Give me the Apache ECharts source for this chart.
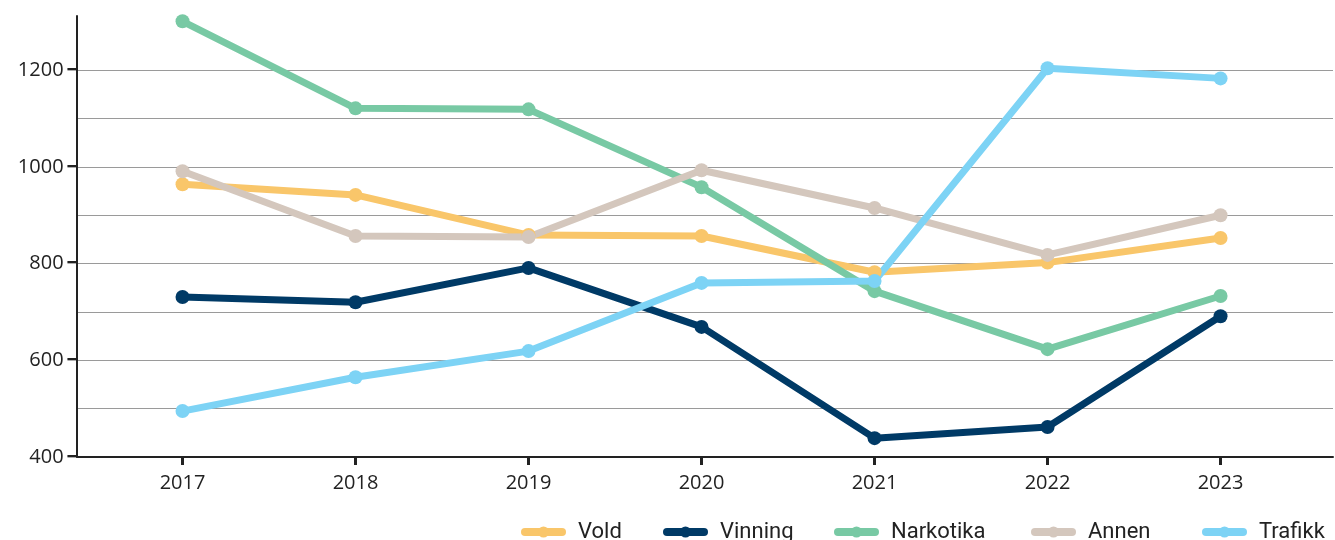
<!DOCTYPE html>
<html>
<head>
<meta charset="utf-8">
<script src="https://cdn.jsdelivr.net/npm/echarts@6/dist/echarts.min.js"></script>
<style>
html, body { margin: 0; padding: 0; background: #fff; }
#main { width: 1335px; height: 540px; }
</style>
</head>
<body>
<div id="main"></div>
<script>
var years = [2017, 2018, 2019, 2020, 2021, 2022, 2023];
var seriesNames = ['Vold', 'Vinning', 'Narkotika', 'Annen', 'Trafikk'];
var vold = [964, 942, 859, 857, 782, 802, 853];
var vinning = [731, 720, 791, 669, 439, 462, 691];
var narkotika = [1301, 1121, 1119, 958, 743, 623, 733];
var annen = [991, 857, 855, 993, 915, 818, 900];
var trafikk = [495, 565, 619, 760, 764, 1204, 1183];
var yLabels = [400, 600, 800, 1000, 1200];

var colors = ['#F9C66A', '#003A66', '#78C9A4', '#D4C7BD', '#7DD3F5'];
var values = [vold, vinning, narkotika, annen, trafikk];
var legendLeft = [516, 658, 829, 1026, 1197];
var xMin = 2016.39;
var xMax = 2023.65;

var myChart = echarts.init(document.getElementById('main'));

// grid line colours: hide the 1300 line and the top edge
var gridColors = [];
for (var v = 400; v <= 1300; v += 100) {
    gridColors.push(v === 1300 ? 'rgba(0,0,0,0)' : '#9a9a9a');
}
gridColors.push('rgba(0,0,0,0)');

var option = {
    animation: false,
    color: colors,
    grid: {
        left: 77,
        right: 2,
        top: 16,
        bottom: 83
    },
    legend: seriesNames.map(function (name, i) {
        return {
            data: [name],
            left: legendLeft[i],
            top: 515,
            itemWidth: 37,
            itemHeight: 14,
            lineStyle: { width: 8, cap: 'round' },
            textStyle: {
                fontFamily: 'Roboto, sans-serif',
                fontSize: 22,
                lineHeight: 24,
                color: '#222',
                padding: [0, 0, 0, 11]
            }
        };
    }),
    xAxis: {
        type: 'value',
        min: xMin,
        max: xMax,
        splitLine: { show: false },
        axisLine: {
            lineStyle: { color: '#222', width: 2 }
        },
        axisTick: {
            show: true,
            customValues: years,
            length: 8,
            lineStyle: { color: '#222', width: 3 }
        },
        axisLabel: {
            customValues: years,
            margin: 16,
            fontFamily: 'Open Sans, sans-serif',
            fontSize: 20,
            color: '#222',
            formatter: function (val) { return String(val); }
        }
    },
    yAxis: {
        type: 'value',
        min: 400,
        max: 1312,
        interval: 100,
        axisLine: {
            show: true,
            lineStyle: { color: '#222', width: 2 }
        },
        axisTick: { show: false },
        splitLine: {
            lineStyle: { color: gridColors, width: 1 }
        },
        axisLabel: {
            customValues: yLabels,
            margin: 1,
            fontFamily: 'Open Sans, sans-serif',
            fontSize: 20,
            color: '#222',
            // short dark dash after each label stands in for the tick mark
            formatter: function (val) { return '{n|' + val + '}{d|\u2501}'; },
            rich: {
                n: { fontFamily: 'Open Sans, sans-serif', fontSize: 20, color: '#222', padding: [0, 4, 0, 0] },
                d: { fontFamily: 'DejaVu Sans, sans-serif', fontSize: 14, color: '#222' }
            }
        }
    },
    series: seriesNames.map(function (name, i) {
        return {
            name: name,
            type: 'line',
            data: years.map(function (y, j) { return [y, values[i][j]]; }),
            symbol: 'circle',
            symbolSize: 14,
            lineStyle: { width: 7 },
            itemStyle: { color: colors[i] }
        };
    })
};

myChart.setOption(option);
</script>
</body>
</html>
